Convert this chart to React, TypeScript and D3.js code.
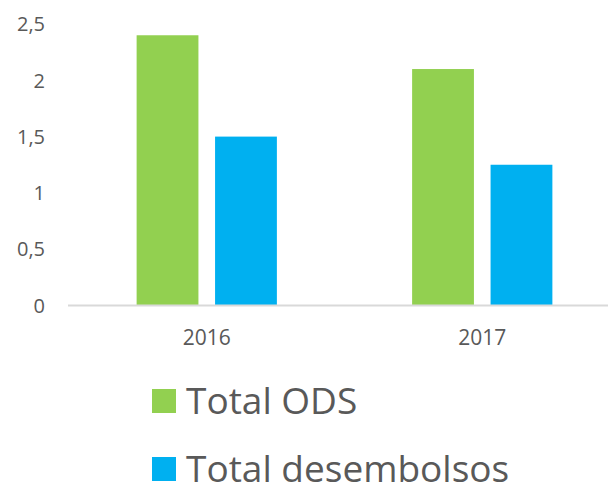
import React, { useRef, useEffect } from 'react';
import * as d3 from 'd3';

const years = ['2016', '2017'];
const seriesNames = ['Total ODS', 'Total desembolsos'];
const totalODS = [2.4, 2.1];
const totalDesembolsos = [1.5, 1.25];
const seriesColors = ['#92D050', '#00B0F0'];
const yTicks = [0, 0.5, 1, 1.5, 2, 2.5];

const W = 608;
const H = 483;
const FONT = '"Open Sans", "Noto Sans", sans-serif';

const App = () => {
    const svgRef = useRef<SVGSVGElement | null>(null);

    useEffect(() => {
        const svg = d3.select(svgRef.current);
        svg.selectAll('*').remove();

        const values = [totalODS, totalDesembolsos];

        const x0 = d3.scaleBand().domain(years).range([69, 620]).padding(0);
        const x1 = d3.scaleBand()
            .domain(seriesNames)
            .range([0, x0.bandwidth()])
            .paddingInner(0.212)
            .paddingOuter(0.862);
        const y = d3.scaleLinear().domain([0, 2.5]).range([305.5, 24]);

        // y tick labels (no axis line, no gridlines)
        svg.append('g')
            .selectAll('text')
            .data(yTicks)
            .enter().append('text')
            .attr('x', 45)
            .attr('y', d => y(d))
            .attr('dy', '0.36em')
            .attr('text-anchor', 'end')
            .style('font-family', FONT)
            .style('font-size', '20px')
            .style('fill', '#595959')
            .text(d => d3.format('')(d).replace('.', ','));

        // bars
        const groups = svg.append('g')
            .selectAll('g')
            .data(years)
            .enter().append('g')
            .attr('transform', d => `translate(${x0(d)},0)`);

        groups.selectAll('rect')
            .data((d, i) => seriesNames.map((s, j) => ({ s, v: values[j][i], c: seriesColors[j] })))
            .enter().append('rect')
            .attr('x', d => x1(d.s)!)
            .attr('width', x1.bandwidth())
            .attr('y', d => y(d.v))
            .attr('height', d => y(0) - y(d.v))
            .style('fill', d => d.c);

        // baseline
        svg.append('line')
            .attr('x1', 68)
            .attr('x2', W)
            .attr('y1', y(0))
            .attr('y2', y(0))
            .style('stroke', '#D9D9D9')
            .style('stroke-width', 2);

        // category labels
        svg.append('g')
            .selectAll('text')
            .data(years)
            .enter().append('text')
            .attr('x', d => x0(d)! + x0.bandwidth() / 2)
            .attr('y', 345)
            .attr('text-anchor', 'middle')
            .style('font-family', FONT)
            .style('font-size', '21px')
            .style('fill', '#595959')
            .text(d => d);

        // legend
        const legend = svg.append('g')
            .selectAll('g')
            .data(seriesNames)
            .enter().append('g')
            .attr('transform', (d, i) => `translate(152,${389 + i * 68})`);

        legend.append('rect')
            .attr('width', 24)
            .attr('height', 24)
            .style('fill', (d, i) => seriesColors[i]);

        legend.append('text')
            .attr('x', 34)
            .attr('y', 24.5)
            .style('font-family', FONT)
            .style('font-size', '37px')
            .style('fill', '#595959')
            .text(d => d);
    }, []);

    return (
        <svg
            ref={svgRef}
            width={W}
            height={H}
            style={{ position: 'fixed', left: 0, top: 0, background: '#fff' }}
        />
    );
};

export default App;
